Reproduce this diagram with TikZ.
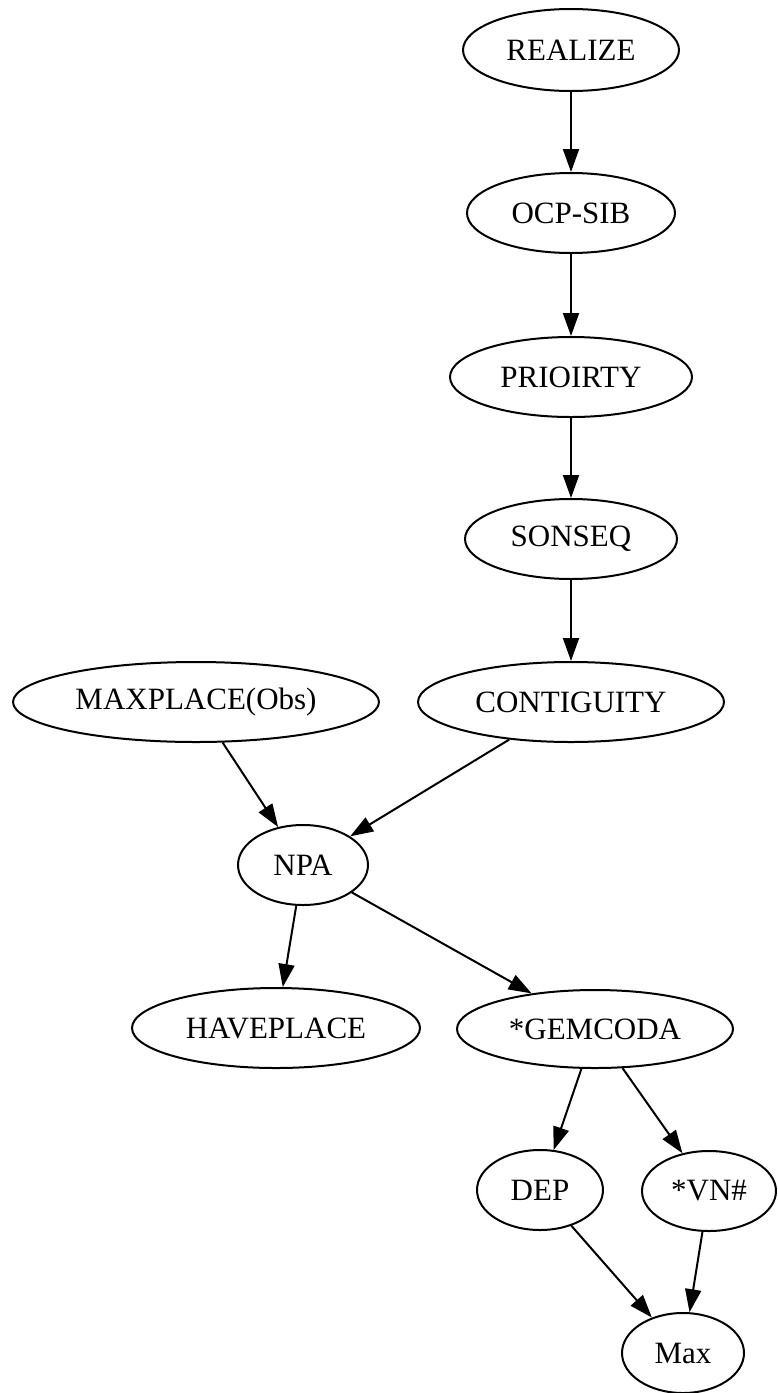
\documentclass[tikz,border=0pt]{standalone}
\usepackage{fontspec}
\setmainfont{Liberation Serif}
\usetikzlibrary{shapes.geometric,arrows.meta}
\tikzset{
  gnode/.style={draw=black, line width=2pt, ellipse, inner sep=0pt,
    font=\fontsize{31}{37}\selectfont},
  gedge/.style={draw=black, line width=2pt, -{Triangle[length=23pt,width=16pt]}}
}
\begin{document}
\begin{tikzpicture}[x=1pt,y=-1pt]
\useasboundingbox (0,0) rectangle (777,1393);
\node[gnode, minimum width=216pt, minimum height=82pt] (realize) at (571,50) {REALIZE};
\node[gnode, minimum width=208pt, minimum height=80pt] (ocp) at (571,213) {OCP-SIB};
\node[gnode, minimum width=242pt, minimum height=80pt] (prio) at (571,377) {PRIOIRTY};
\node[gnode, minimum width=212pt, minimum height=80pt] (son) at (571,539) {SONSEQ};
\node[gnode, minimum width=306pt, minimum height=80pt] (cont) at (571,702) {CONTIGUITY};
\node[gnode, minimum width=366pt, minimum height=80pt] (maxp) at (196,702) {MAXPLACE(Obs)};
\node[gnode, minimum width=130pt, minimum height=80pt] (npa) at (303,865) {NPA};
\node[gnode, minimum width=288pt, minimum height=80pt] (have) at (276,1028) {HAVEPLACE};
\node[gnode, minimum width=276pt, minimum height=78pt] (gem) at (595,1029) {*GEMCODA};
\node[gnode, minimum width=126pt, minimum height=80pt] (dep) at (540,1190) {DEP};
\node[gnode, minimum width=134pt, minimum height=80pt] (vn) at (709,1191) {*VN\#};
\node[gnode, minimum width=122pt, minimum height=80pt] (max) at (683,1353) {Max};
\draw[gedge] (realize) -- (ocp);
\draw[gedge] (ocp) -- (prio);
\draw[gedge] (prio) -- (son);
\draw[gedge] (son) -- (cont);
\draw[gedge] (maxp) -- (npa);
\draw[gedge] (cont) -- (npa);
\draw[gedge] (npa) -- (have);
\draw[gedge] (npa) -- (gem);
\draw[gedge] (gem) -- (dep);
\draw[gedge] (gem) -- (vn);
\draw[gedge] (dep) -- (max);
\draw[gedge] (vn) -- (max);
\end{tikzpicture}
\end{document}
